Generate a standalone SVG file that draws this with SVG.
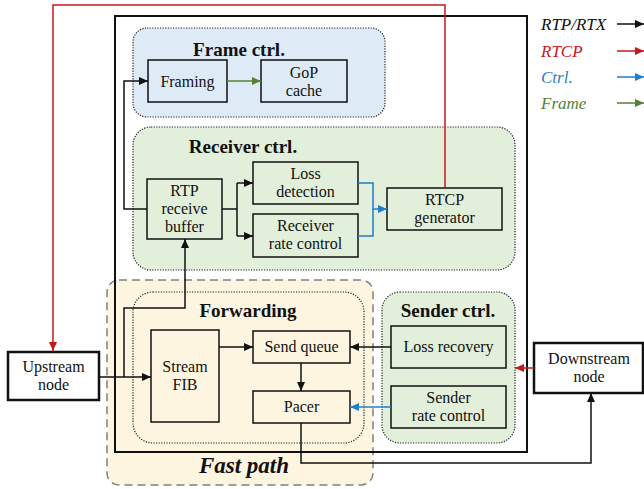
<svg xmlns="http://www.w3.org/2000/svg" width="644" height="489" viewBox="0 0 644 489" font-family="Liberation Serif, DejaVu Serif, serif">
<style>
text{font-size:16px;fill:#111;text-anchor:middle}
.t{font-weight:bold;font-size:19px}
.fp{font-weight:bold;font-style:italic;font-size:23px}
.lg{font-style:italic;font-size:17px;text-anchor:start}
.box{fill:none;stroke:#111;stroke-width:1.5}
.grp{stroke:#222;stroke-width:1.2;stroke-dasharray:1.2 1.4}
.k{fill:none;stroke:#111;stroke-width:1.5}
.r{fill:none;stroke:#c8161d;stroke-width:1.5}
.b{fill:none;stroke:#1f7fc8;stroke-width:1.5}
.g{fill:none;stroke:#548235;stroke-width:1.5}
</style>
<defs>
<marker id="ak" markerWidth="9" markerHeight="8" refX="9" refY="4" orient="auto" markerUnits="userSpaceOnUse"><path d="M0,0L9,4L0,8z" fill="#111"/></marker>
<marker id="ar" markerWidth="9" markerHeight="8" refX="9" refY="4" orient="auto" markerUnits="userSpaceOnUse"><path d="M0,0L9,4L0,8z" fill="#c8161d"/></marker>
<marker id="ab" markerWidth="9" markerHeight="8" refX="9" refY="4" orient="auto" markerUnits="userSpaceOnUse"><path d="M0,0L9,4L0,8z" fill="#1f7fc8"/></marker>
<marker id="ag" markerWidth="9" markerHeight="8" refX="9" refY="4" orient="auto" markerUnits="userSpaceOnUse"><path d="M0,0L9,4L0,8z" fill="#548235"/></marker>
</defs>
<rect width="644" height="489" fill="#fff"/>

<g id="fast-path">
<rect x="107" y="280" width="266" height="205" rx="12" fill="#fef5e0" stroke="#808080" stroke-width="1.5" stroke-dasharray="8 5"/>
<text class="fp" x="244" y="473">Fast path</text>
</g>

<g id="relay">
<rect x="115" y="16" width="412" height="436" fill="none" stroke="#111" stroke-width="2"/>
</g>

<g id="frame-ctrl">
<rect class="grp" x="133" y="28" width="252" height="89" rx="14" fill="#deebf7"/>
<text class="t" x="239" y="56">Frame ctrl.</text>
</g>
<g id="receiver-ctrl">
<rect class="grp" x="133" y="127" width="382" height="143" rx="18" fill="#e2efda"/>
<text class="t" x="243" y="153">Receiver ctrl.</text>
</g>
<g id="forwarding">
<rect class="grp" x="133" y="292" width="231" height="151" rx="20" fill="none"/>
<text class="t" x="248" y="317">Forwarding</text>
</g>
<g id="sender-ctrl">
<rect class="grp" x="382" y="292" width="133" height="151" rx="18" fill="#e2efda"/>
<text class="t" x="448" y="317">Sender ctrl.</text>
</g>

<g id="framing"><rect class="box" x="148" y="60" width="79" height="42"/><text x="187.5" y="87">Framing</text></g>
<g id="gop-cache"><rect class="box" x="261" y="60" width="86" height="42"/><text x="304" y="78">GoP</text><text x="304" y="96">cache</text></g>
<g id="rtp-receive-buffer"><rect class="box" x="147" y="179" width="75" height="60"/><text x="184.5" y="196">RTP</text><text x="184.5" y="214">receive</text><text x="184.5" y="232">buffer</text></g>
<g id="loss-detection"><rect class="box" x="253" y="162" width="105" height="42"/><text x="305.5" y="179">Loss</text><text x="305.5" y="197">detection</text></g>
<g id="receiver-rate-control"><rect class="box" x="253" y="214" width="105" height="43"/><text x="305.5" y="231">Receiver</text><text x="305.5" y="249">rate control</text></g>
<g id="rtcp-generator"><rect class="box" x="387" y="188" width="115" height="42"/><text x="444.5" y="205">RTCP</text><text x="444.5" y="223">generator</text></g>
<g id="stream-fib"><rect class="box" x="151" y="330" width="68" height="92"/><text x="185" y="372">Stream</text><text x="185" y="390">FIB</text></g>
<g id="send-queue"><rect class="box" x="253" y="331" width="97" height="32"/><text x="301.5" y="352">Send queue</text></g>
<g id="pacer"><rect class="box" x="253" y="391" width="97" height="32"/><text x="301.5" y="412">Pacer</text></g>
<g id="loss-recovery"><rect class="box" x="391" y="326" width="115" height="42"/><text x="448.5" y="352">Loss recovery</text></g>
<g id="sender-rate-control"><rect class="box" x="391" y="386" width="115" height="42"/><text x="448.5" y="403">Sender</text><text x="448.5" y="421">rate control</text></g>
<g id="upstream-node"><rect x="8" y="352" width="91" height="48" fill="#fff" stroke="#111" stroke-width="2.5"/><text x="53.5" y="372">Upstream</text><text x="53.5" y="390">node</text></g>
<g id="downstream-node"><rect x="534" y="343" width="109" height="50" fill="#fff" stroke="#111" stroke-width="2.5"/><text x="589" y="364">Downstream</text><text x="589" y="382">node</text></g>

<g id="connectors">
<path class="g" d="M227,81H261" marker-end="url(#ag)"/>
<path class="k" d="M147,209H124V81H148" marker-end="url(#ak)"/>
<path class="k" d="M222,209H237M237,183V236"/>
<path class="k" d="M237,183H253" marker-end="url(#ak)"/>
<path class="k" d="M237,236H253" marker-end="url(#ak)"/>
<path class="b" d="M358,183H373V236H358"/>
<path class="b" d="M373,209H387" marker-end="url(#ab)"/>
<path class="r" d="M445,188V5H53V351" marker-end="url(#ar)"/>
<path class="k" d="M99,377H151" marker-end="url(#ak)"/>
<path class="k" d="M124,377V308H185V239" marker-end="url(#ak)"/>
<path class="k" d="M219,347H253" marker-end="url(#ak)"/>
<path class="k" d="M301,363V391" marker-end="url(#ak)"/>
<path class="k" d="M391,347H350" marker-end="url(#ak)"/>
<path class="b" d="M391,407H350" marker-end="url(#ab)"/>
<path class="k" d="M301,423V463H591V393" marker-end="url(#ak)"/>
<path class="r" d="M534,368H515" marker-end="url(#ar)"/>
</g>

<g id="legend">
<text class="lg" x="541" y="30">RTP/RTX</text>
<text class="lg" x="541" y="57" style="fill:#c8161d">RTCP</text>
<text class="lg" x="541" y="83" style="fill:#1f7fc8">Ctrl.</text>
<text class="lg" x="541" y="109" style="fill:#548235">Frame</text>
<path class="k" d="M617,24H644" marker-end="url(#ak)"/>
<path class="r" d="M617,51H644" marker-end="url(#ar)"/>
<path class="b" d="M617,77H644" marker-end="url(#ab)"/>
<path class="g" d="M617,103H644" marker-end="url(#ag)"/>
</g>
</svg>
